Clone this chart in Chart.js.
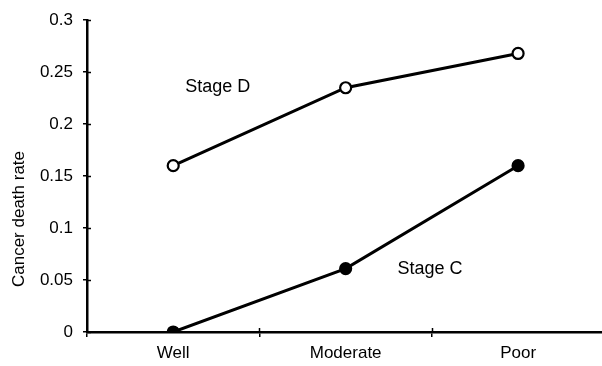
<!DOCTYPE html>
<html>
<head>
<meta charset="utf-8">
<script src="https://cdn.jsdelivr.net/npm/chart.js@4.4.1/dist/chart.umd.min.js"></script>
<style>
  html, body { margin: 0; padding: 0; background: #fff; overflow: hidden; }
</style>
</head>
<body>
<canvas id="chart" width="612" height="366"></canvas>
<script>
// ===== DATA =====
const categories = ['Well', 'Moderate', 'Poor'];
const stageD = [0.16, 0.235, 0.268];
const stageC = [0, 0.061, 0.16];
const yTickValues = [0, 0.05, 0.1, 0.15, 0.2, 0.25, 0.3];
const yTitle = 'Cancer death rate';

// series labels written next to the lines (category index, value)
const noteText = ['Stage D', 'Stage C'];
const noteAt = [0.07, 1.30];
const noteVal = [0.2355, 0.061];

const FONT = '"Liberation Sans", Arial, Helvetica, sans-serif';

// small ticks that cross the axis lines, plus notes and y title
const extras = {
    id: 'extras',
    afterDraw(chart) {
        const ctx = chart.ctx;
        const x = chart.scales.x, y = chart.scales.y;
        const area = chart.chartArea;
        ctx.save();
        ctx.strokeStyle = '#000';
        ctx.lineWidth = 1.5;
        // inner part of y ticks
        yTickValues.forEach(v => {
            const py = Math.round(y.getPixelForValue(v)) + 0.5;
            ctx.beginPath();
            ctx.moveTo(area.left, py);
            ctx.lineTo(area.left + 4, py);
            ctx.stroke();
        });
        // inner part of x ticks (band edges between categories)
        for (let i = 1; i < categories.length; i++) {
            const px = Math.round(x.getPixelForValue(i - 0.5)) + 0.5;
            ctx.beginPath();
            ctx.moveTo(px, area.bottom);
            ctx.lineTo(px, area.bottom - 4);
            ctx.stroke();
        }
        // series notes
        ctx.fillStyle = '#000';
        ctx.font = '18px ' + FONT;
        ctx.textAlign = 'left';
        ctx.textBaseline = 'middle';
        noteText.forEach((t, i) => {
            ctx.fillText(t, x.getPixelForValue(noteAt[i]), y.getPixelForValue(noteVal[i]));
        });
        // y title
        ctx.font = '17px ' + FONT;
        ctx.translate(19, 219);
        ctx.rotate(-Math.PI / 2);
        ctx.textAlign = 'center';
        ctx.fillText(yTitle, 0, 0);
        ctx.restore();
    }
};

new Chart(document.getElementById('chart').getContext('2d'), {
    type: 'line',
    data: {
        labels: categories,
        datasets: [
            {
                label: noteText[0], data: stageD,
                borderColor: '#000', borderWidth: 3,
                pointRadius: 5.5, pointBorderWidth: 2.2,
                pointBackgroundColor: '#fff', pointBorderColor: '#000',
                tension: 0
            },
            {
                label: noteText[1], data: stageC,
                borderColor: '#000', borderWidth: 3,
                pointRadius: 5.5, pointBorderWidth: 2.2,
                pointBackgroundColor: '#000', pointBorderColor: '#000',
                tension: 0
            }
        ]
    },
    options: {
        responsive: false,
        animation: false,
        events: [],
        layout: { padding: { top: 18, right: 0, left: 0, bottom: 0 } },
        plugins: { legend: { display: false }, tooltip: { enabled: false } },
        scales: {
            x: {
                offset: true,
                grid: { offset: true, drawOnChartArea: false, drawTicks: true, tickLength: 5, color: '#000', lineWidth: 1.5 },
                border: { display: true, color: '#000', width: 2.5 },
                ticks: { color: '#000', font: { family: FONT, size: 17 }, padding: 6 },
                afterFit(scale) { scale.height = 34; }
            },
            y: {
                min: 0, max: 0.3,
                afterBuildTicks(scale) { scale.ticks = yTickValues.map(v => ({ value: v })); },
                grid: { drawOnChartArea: false, drawTicks: true, tickLength: 4, color: '#000', lineWidth: 1.5 },
                border: { display: true, color: '#000', width: 2.5 },
                ticks: {
                    color: '#000', font: { family: FONT, size: 17 }, padding: 10,
                    callback: v => String(+Number(v).toFixed(2))
                },
                afterFit(scale) { scale.width = 87; }
            }
        }
    },
    plugins: [extras]
});
</script>
</body>
</html>
